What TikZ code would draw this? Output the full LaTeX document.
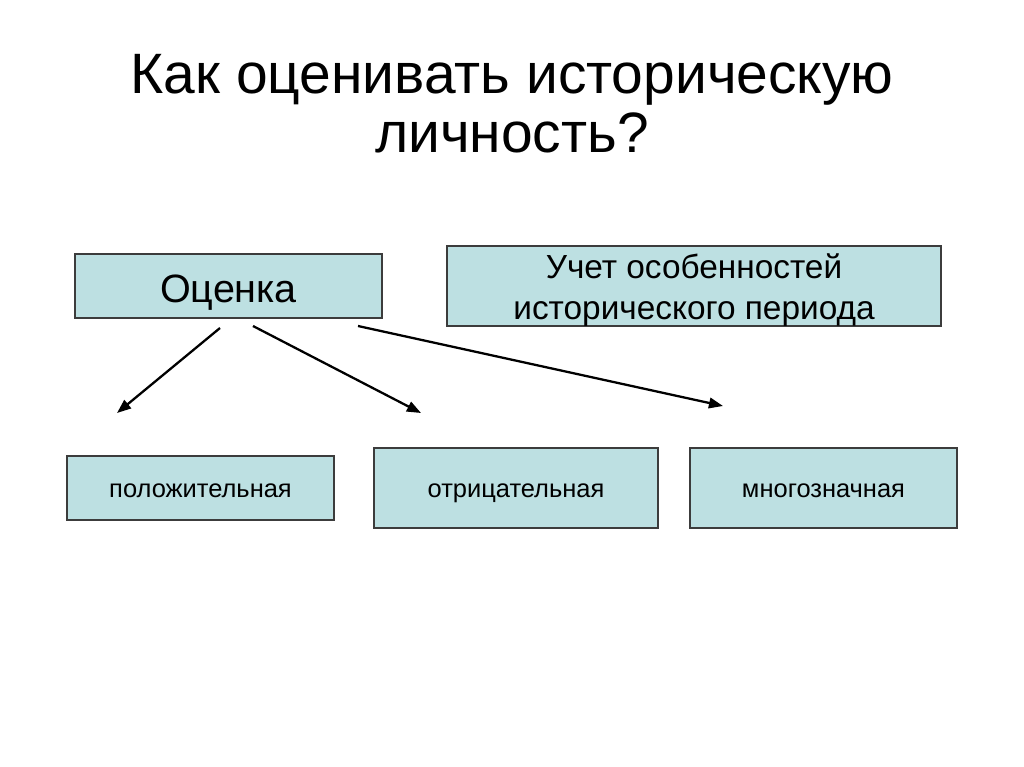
\documentclass[tikz,border=0pt]{standalone}
\usepackage{fontspec}
\setmainfont{Liberation Sans}
\usetikzlibrary{arrows.meta}
\usetikzlibrary{positioning}
\definecolor{boxfill}{RGB}{189,224,226}
\definecolor{boxline}{RGB}{60,60,60}

\begin{document}
\begin{tikzpicture}[x=0.02cm, y=-0.02cm,
    box/.style={draw=boxline, line width=0.7pt, fill=boxfill, inner sep=0pt, align=center},
    small/.style={box, minimum width=#1*0.02cm, font=\fontsize{14.5}{17}\selectfont, text height=11.3pt, text depth=0pt},
    arr/.style={line width=1.3pt, -{Triangle[length=8pt, width=6pt]}}]
    \useasboundingbox (0,0) rectangle (1024,767);
    \node (title) at (512,104) [align=center, font=\fontsize{32.4}{33.5}\selectfont] {Как оценивать историческую\\личность?};
    \node (ocenka) at (228.5,286) [box, minimum width=307*0.02cm, minimum height=64*0.02cm, font=\fontsize{22.5}{26}\selectfont, text height=18.9pt, text depth=0pt] {Оценка};
    \node (uchet) at (694,286) [box, minimum width=494*0.02cm, minimum height=80*0.02cm] {};
    \node (uchettext) at (694,290) [align=center, font=\fontsize{19}{23}\selectfont] {Учет особенностей\\исторического периода};
    \node (pol) at (200.5,488) [small=267, minimum height=64*0.02cm] {положительная};
    \node (otr) at (516,488) [small=284, minimum height=80*0.02cm] {отрицательная};
    \node (mnog) at (823.5,488) [small=267, minimum height=80*0.02cm] {многозначная};
    \coordinate (s1) at (220,328);
    \coordinate (s2) at (253,326);
    \coordinate (s3) at (358,326);
    \coordinate (e1) at (117,413);
    \coordinate (e2) at (421,413);
    \coordinate (e3) at (723,406);
    \draw [arr] (s1) -- (e1);
    \draw [arr] (s2) -- (e2);
    \draw [arr] (s3) -- (e3);
\end{tikzpicture}
\end{document}
